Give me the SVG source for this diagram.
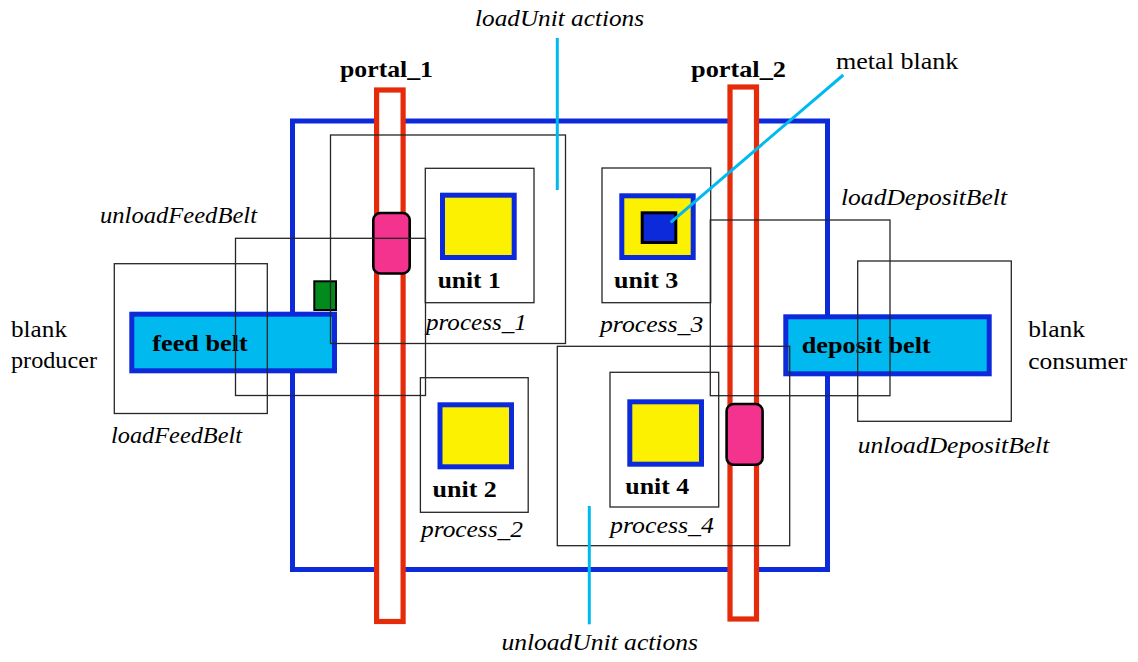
<svg xmlns="http://www.w3.org/2000/svg" width="1138" height="662" viewBox="0 0 1138 662" font-family="'Liberation Serif', Tinos, 'Times New Roman', Times, serif">
  <style>
    text { font-family: 'Liberation Serif', Tinos, 'Times New Roman', Times, serif; font-size: 23px; fill: #000; }
    .b { font-weight: bold; }
    .i { font-style: italic; }
    .frame { fill: none; stroke: #0c2ad9; stroke-width: 5; }
    .portal { fill: #fff; stroke: #e52b0a; stroke-width: 5.2; }
    .belt { fill: #00b9ee; stroke: #0c2ad9; stroke-width: 5; }
    .unit { fill: #fbf100; stroke: #0c2ad9; stroke-width: 5; }
    .gripper { fill: #f4338f; stroke: #000; stroke-width: 2.6; }
    .area { fill: none; stroke: #262626; stroke-width: 1.3; }
    .link { stroke: #00b9ee; stroke-width: 3; fill: none; }
  </style>

  <!-- machine frame -->
  <g id="frame">
    <rect class="frame" x="292.5" y="121" width="535" height="448.5"/>
  </g>

  <!-- belts -->
  <g id="feed_belt">
    <rect class="belt" x="131.8" y="314.2" width="202.7" height="56.6"/>
    <text class="b" x="152.3" y="350.5" textLength="95.5" lengthAdjust="spacingAndGlyphs">feed belt</text>
  </g>
  <g id="deposit_belt">
    <rect class="belt" x="785.8" y="316.8" width="203.4" height="57"/>
    <text class="b" x="801.7" y="352.7" textLength="129" lengthAdjust="spacingAndGlyphs">deposit belt</text>
  </g>

  <!-- portals with their grippers -->
  <g id="portal_1">
    <rect class="portal" x="376.6" y="90" width="26.5" height="531.5"/>
    <text class="b" x="340" y="77" textLength="93" lengthAdjust="spacingAndGlyphs">portal_1</text>
  </g>
  <g id="portal_2">
    <rect class="portal" x="730" y="87" width="26.5" height="532"/>
    <text class="b" x="691" y="77" textLength="95" lengthAdjust="spacingAndGlyphs">portal_2</text>
  </g>
  <g id="gripper_1">
    <rect class="gripper" x="373.3" y="213" width="36.4" height="60.5" rx="7"/>
  </g>
  <g id="gripper_2">
    <rect class="gripper" x="726.6" y="404" width="36" height="60.8" rx="7"/>
  </g>

  <!-- blank waiting on the feed belt -->
  <g id="feed_blank">
    <rect x="314.3" y="281.3" width="21.7" height="28.7" fill="#038a1d" stroke="#000" stroke-width="2"/>
  </g>

  <!-- processing units -->
  <g id="unit_1">
    <rect class="unit" x="442.5" y="195.2" width="71.7" height="62.3"/>
    <text class="b" x="437.7" y="287.7" textLength="63" lengthAdjust="spacingAndGlyphs">unit 1</text>
  </g>
  <g id="unit_2">
    <rect class="unit" x="440" y="404.8" width="71.5" height="62"/>
    <text class="b" x="432.5" y="497" textLength="64.3" lengthAdjust="spacingAndGlyphs">unit 2</text>
  </g>
  <g id="unit_3">
    <rect class="unit" x="621.8" y="195.8" width="71.4" height="61.7"/>
    <text class="b" x="614" y="288" textLength="64.3" lengthAdjust="spacingAndGlyphs">unit 3</text>
  </g>
  <g id="unit_4">
    <rect class="unit" x="629.8" y="401.8" width="71.7" height="62.4"/>
    <text class="b" x="625.3" y="494.3" textLength="64" lengthAdjust="spacingAndGlyphs">unit 4</text>
  </g>
  <g id="metal_blank">
    <rect x="642.2" y="212.8" width="33.6" height="29.7" fill="#0c2ad9" stroke="#000" stroke-width="3"/>
  </g>

  <!-- action areas -->
  <g id="loadUnit_area">
    <rect class="area" x="330.5" y="135" width="235" height="208.5"/>
  </g>
  <g id="process_1">
    <rect class="area" x="425.3" y="168.3" width="108.7" height="134.4"/>
    <text class="i" x="426" y="330" textLength="100.7" lengthAdjust="spacingAndGlyphs">process_1</text>
  </g>
  <g id="process_2">
    <rect class="area" x="420.4" y="377.7" width="107.8" height="134.6"/>
    <text class="i" x="421" y="536.5" textLength="102" lengthAdjust="spacingAndGlyphs">process_2</text>
  </g>
  <g id="process_3">
    <rect class="area" x="602" y="168" width="108.7" height="134.7"/>
    <text class="i" x="600" y="331.5" textLength="103.3" lengthAdjust="spacingAndGlyphs">process_3</text>
  </g>
  <g id="process_4">
    <rect class="area" x="610" y="372.3" width="108.7" height="134.7"/>
    <text class="i" x="610" y="532.7" textLength="104" lengthAdjust="spacingAndGlyphs">process_4</text>
  </g>
  <g id="unloadUnit_area">
    <rect class="area" x="557.3" y="346.3" width="232.4" height="199.4"/>
  </g>
  <g id="unloadFeedBelt">
    <rect class="area" x="235.5" y="238.3" width="190" height="157.2"/>
    <text class="i" x="100" y="223" textLength="157" lengthAdjust="spacingAndGlyphs">unloadFeedBelt</text>
  </g>
  <g id="loadFeedBelt">
    <rect class="area" x="114.3" y="263.7" width="153" height="149.8"/>
    <text class="i" x="111" y="443.3" textLength="131" lengthAdjust="spacingAndGlyphs">loadFeedBelt</text>
  </g>
  <g id="loadDepositBelt">
    <rect class="area" x="710.3" y="220" width="179.7" height="175.7"/>
    <text class="i" x="841" y="205" textLength="166" lengthAdjust="spacingAndGlyphs">loadDepositBelt</text>
  </g>
  <g id="unloadDepositBelt">
    <rect class="area" x="857.7" y="261" width="153.6" height="160.3"/>
    <text class="i" x="857.7" y="453.3" textLength="191.6" lengthAdjust="spacingAndGlyphs">unloadDepositBelt</text>
  </g>

  <!-- producer and consumer -->
  <g id="blank_producer">
    <text x="11" y="337.3" textLength="56" lengthAdjust="spacingAndGlyphs">blank</text>
    <text x="11" y="368.3" textLength="86" lengthAdjust="spacingAndGlyphs">producer</text>
  </g>
  <g id="blank_consumer">
    <text x="1028.3" y="337.3" textLength="56.7" lengthAdjust="spacingAndGlyphs">blank</text>
    <text x="1028.3" y="369" textLength="99" lengthAdjust="spacingAndGlyphs">consumer</text>
  </g>

  <!-- callouts -->
  <g id="callout_labels">
    <text class="i" x="475" y="26" textLength="169" lengthAdjust="spacingAndGlyphs">loadUnit actions</text>
    <text class="i" x="501.4" y="649.5" textLength="196.5" lengthAdjust="spacingAndGlyphs">unloadUnit actions</text>
    <text x="836" y="69" textLength="122.3" lengthAdjust="spacingAndGlyphs">metal blank</text>
  </g>
  <g id="connectors">
    <line class="link" x1="557.3" y1="38" x2="557.3" y2="190"/>
    <line class="link" x1="589.3" y1="506" x2="589.3" y2="624.3"/>
    <line class="link" x1="670.7" y1="222.3" x2="843.3" y2="75"/>
  </g>
</svg>
